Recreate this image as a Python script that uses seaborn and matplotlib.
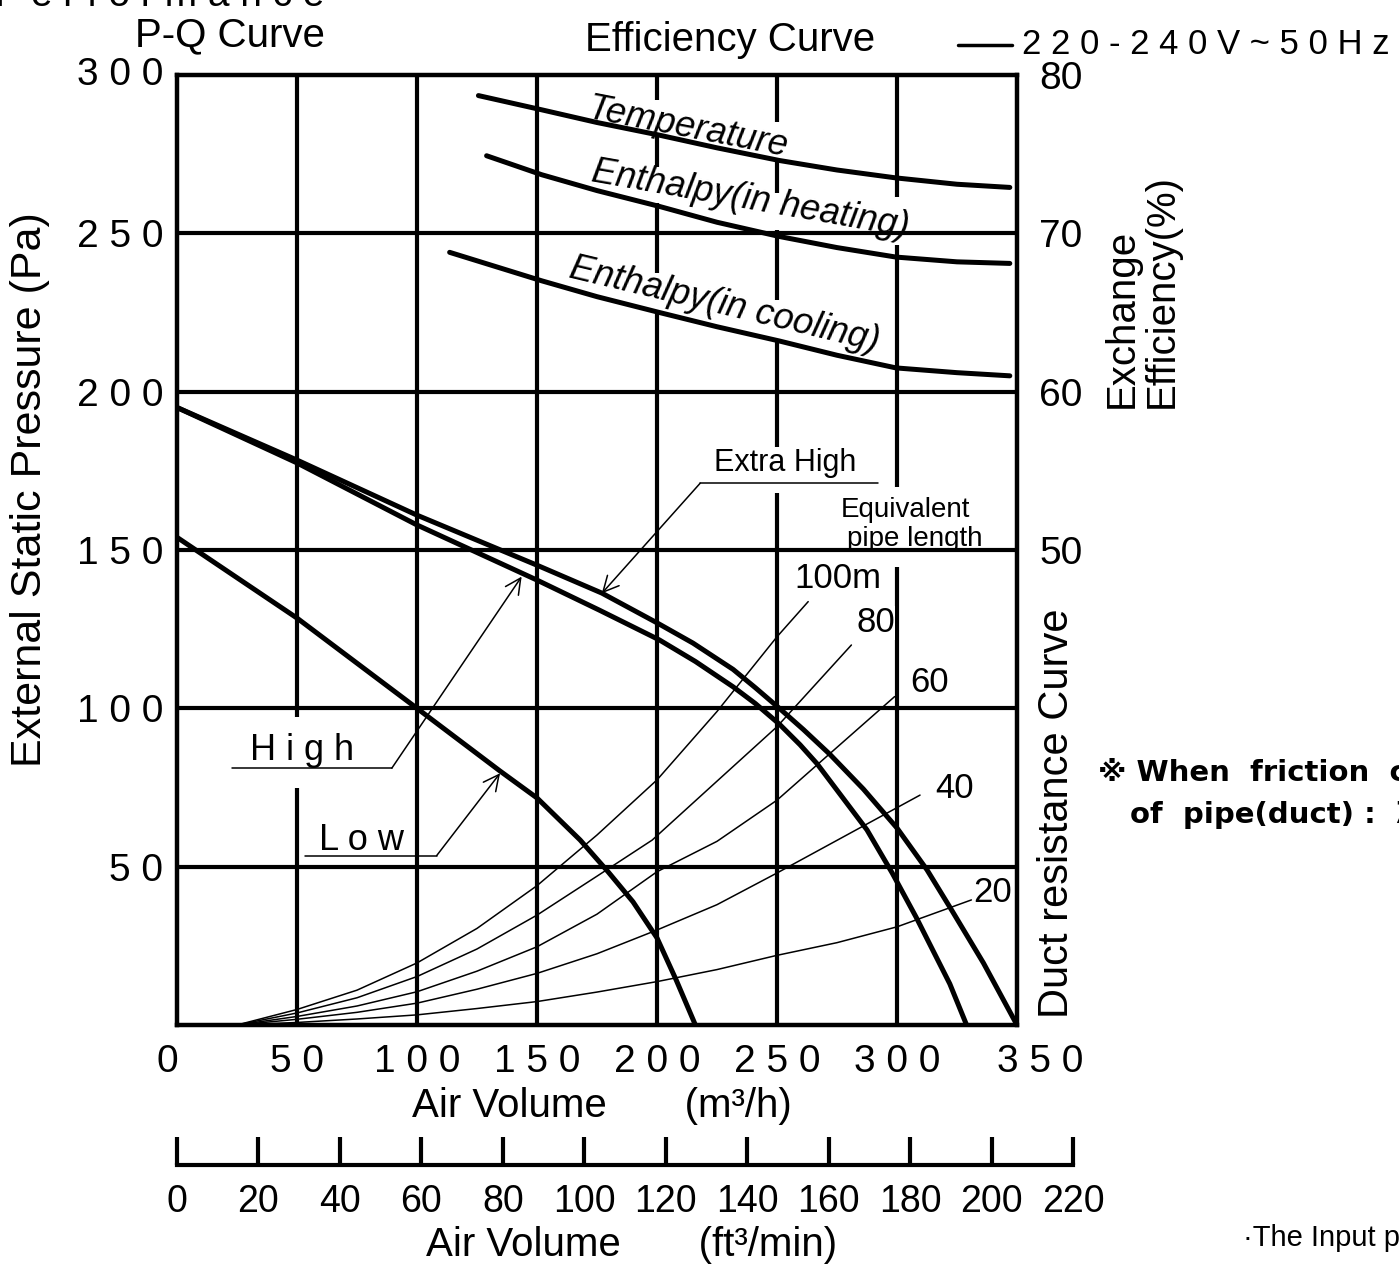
import matplotlib
matplotlib.use("Agg")
import matplotlib.pyplot as plt
import matplotlib.transforms as mtransforms
import seaborn as sns

# ---------------- data ----------------
# P-Q curves: air volume (m3/h) vs external static pressure (Pa)
extra_high_q = [0, 50, 100, 150, 177, 200, 215, 231.7, 241, 251, 261, 272, 286, 300, 312.5, 323, 336, 350]
extra_high_p = [195, 178.4, 161, 145.2, 136.4, 127, 120.6, 112.3, 106.5, 100, 93.3, 85.5, 74.5, 62.2, 49, 36, 19.6, 0]

high_q = [0, 50, 100, 150, 176, 201, 216, 231.7, 241, 251, 259.6, 266.7, 287.5, 298, 308, 322, 329]
high_p = [195, 177.5, 157.9, 140.5, 131, 121.6, 114.8, 106.8, 101.5, 95, 88.5, 82.5, 61.6, 48, 34, 13, 0]

low_q = [0, 50, 100, 134.6, 150, 168, 179.6, 190, 200, 208, 216]
low_p = [154, 128.5, 100, 80.2, 71.7, 58.4, 48.4, 38.9, 27.5, 14.2, 0]

# Duct resistance curves (equivalent pipe length)
duct_labels = ["100m", "80", "60", "40", "20"]
duct100_q = [25, 50, 75, 100, 125, 150, 175, 200, 225, 250, 263]
duct100_p = [0, 4.9, 11, 19.6, 30.5, 44, 60, 77.4, 99, 122.6, 133.7]
duct80_q = [25, 50, 75, 100, 125, 150, 175, 198, 225, 250, 281]
duct80_p = [0, 3.8, 8.6, 15.3, 24, 34.7, 47, 58.4, 77, 94.2, 120]
duct60_q = [25, 50, 75, 100, 125, 150, 175, 200, 225, 250, 299]
duct60_p = [0, 2.7, 6, 10.5, 17, 24.7, 35, 48.4, 58, 71, 103.7]
duct40_q = [25, 50, 75, 100, 125, 150, 175, 200, 225, 250, 309.6]
duct40_p = [0, 1.8, 4, 6.9, 11.3, 16.3, 22.5, 30, 38, 48, 72.6]
duct20_q = [25, 50, 75, 100, 125, 150, 175, 200, 225, 250, 275, 300, 331]
duct20_p = [0, 0.8, 1.9, 3.2, 5.2, 7.4, 10.4, 13.7, 17.5, 22, 26, 31, 39.5]

# Exchange efficiency curves (%)
temp_q = [125.6, 152, 175, 201, 225, 251, 275, 299.6, 325, 347]
temp_eff = [78.7, 77.8, 77.0, 76.2, 75.4, 74.6, 74.0, 73.5, 73.1, 72.9]
heat_q = [129, 152, 175, 201, 225, 251, 275, 299.6, 325, 347]
heat_eff = [74.9, 73.7, 72.7, 71.7, 70.7, 69.8, 69.1, 68.5, 68.2, 68.1]
cool_q = [113.6, 152, 175, 201, 225, 251, 275, 299.6, 325, 347]
cool_eff = [68.8, 67.0, 66.0, 65.0, 64.1, 63.2, 62.3, 61.5, 61.2, 61.0]

# tick labels
m3h_ticks = [0, 50, 100, 150, 200, 250, 300, 350]
m3h_labels = ["0", "5 0", "1 0 0", "1 5 0", "2 0 0", "2 5 0", "3 0 0", "3 5 0"]
pa_ticks = [50, 100, 150, 200, 250, 300]
pa_labels = ["5 0", "1 0 0", "1 5 0", "2 0 0", "2 5 0", "3 0 0"]
eff_ticks = [50, 60, 70, 80]
eff_labels = ["50", "60", "70", "80"]
cfm_ticks = [0, 20, 40, 60, 80, 100, 120, 140, 160, 180, 200, 220]
cfm_labels = [str(v) for v in cfm_ticks]

# ---------------- style ----------------
sns.set_theme(style="white")
FONT = ["Liberation Sans", "DejaVu Sans", "Noto Sans CJK JP"]
plt.rcParams["font.family"] = FONT
plt.rcParams["axes.unicode_minus"] = False
for key in ["text.color", "axes.labelcolor", "xtick.color", "ytick.color", "axes.edgecolor"]:
    plt.rcParams[key] = "black"

W, H = 1399, 1264
fig = plt.figure(figsize=(W / 100, H / 100), dpi=100)
fig.patch.set_facecolor("white")


def fx(px):
    return px / W


def fy(py):
    return 1 - py / H


ax = fig.add_axes([fx(177), fy(1025), (1017 - 177) / W, (1025 - 75) / H])
ax.set_xlim(0, 350)
ax.set_ylim(0, 300)
for s in ax.spines.values():
    s.set_linewidth(3.2)
    s.set_color("black")
    s.set_visible(True)

K = "black"
GLW = 3.0

# horizontal grid
for yv in [50, 100, 150, 200, 250]:
    ax.plot([0, 350], [yv, yv], color=K, lw=GLW, solid_capstyle="butt", zorder=1)

# vertical grid (with gaps for text)
vsegs = {
    50: [(300, 97.3), (74.8, 0)],
    100: [(300, 0)],
    150: [(300, 0)],
    200: [(300, 292), (281, 271), (259.6, 237.5), (225.8, 0)],
    250: [(300, 285), (273.8, 262.7), (251, 229), (216.3, 182.5), (168, 0)],
    300: [(300, 261.4), (246.3, 169.9), (144.6, 0)],
}
for xv, segs in vsegs.items():
    for a, b in segs:
        ax.plot([xv, xv], [a, b], color=K, lw=GLW, solid_capstyle="butt", zorder=1)

# duct resistance curves
for q, p in [(duct100_q, duct100_p), (duct80_q, duct80_p), (duct60_q, duct60_p),
             (duct40_q, duct40_p), (duct20_q, duct20_p)]:
    sns.lineplot(x=q, y=p, ax=ax, color=K, lw=1.1, sort=False, estimator=None, zorder=2)

# P-Q curves
for q, p in [(extra_high_q, extra_high_p), (high_q, high_p), (low_q, low_p)]:
    sns.lineplot(x=q, y=p, ax=ax, color=K, lw=3.6, sort=False, estimator=None, zorder=3)

ax.set_xlabel("")
ax.set_ylabel("")

# ticks
ax.set_xticks(m3h_ticks)
ax.set_xticklabels(m3h_labels, fontsize=28)
ax.set_yticks(pa_ticks)
ax.set_yticklabels(pa_labels, fontsize=28)
ax.tick_params(axis="both", length=0, colors="black")
ax.tick_params(axis="x", pad=14)
ax.tick_params(axis="y", pad=10)
xl = ax.get_xticklabels()
xl[0].set_transform(xl[0].get_transform() + mtransforms.ScaledTranslation(-10 / 100, 0, fig.dpi_scale_trans))
xl[-1].set_transform(xl[-1].get_transform() + mtransforms.ScaledTranslation(23 / 100, 0, fig.dpi_scale_trans))
yl = ax.get_yticklabels()
yl[-1].set_transform(yl[-1].get_transform() + mtransforms.ScaledTranslation(0, 4 / 100, fig.dpi_scale_trans))

# efficiency axis
ax2 = ax.twinx()
ax2.set_ylim(20, 80)
sns.lineplot(x=temp_q, y=temp_eff, ax=ax2, color=K, lw=3.6, sort=False, estimator=None)
sns.lineplot(x=heat_q, y=heat_eff, ax=ax2, color=K, lw=3.6, sort=False, estimator=None)
sns.lineplot(x=cool_q, y=cool_eff, ax=ax2, color=K, lw=3.6, sort=False, estimator=None)
ax2.set_yticks(eff_ticks)
ax2.set_yticklabels(eff_labels, fontsize=28)
ax2.tick_params(axis="y", length=0, pad=16, colors="black")
ax2.set_ylabel("")
for s in ax2.spines.values():
    s.set_visible(False)

# curve labels
ax.text(212.9, 283.2, "Temperature", fontsize=26, style="italic", rotation=-11,
        ha="center", va="center", rotation_mode="anchor", zorder=5)
ax.text(238.75, 260.5, "Enthalpy(in heating)", fontsize=26, style="italic", rotation=-10,
        ha="center", va="center", rotation_mode="anchor", zorder=5)
ax.text(228.3, 227.3, "Enthalpy(in cooling)", fontsize=26, style="italic", rotation=-13.5,
        ha="center", va="center", rotation_mode="anchor", zorder=5)

ax.text(253.3, 177.5, "Extra High", fontsize=22, ha="center", va="center")
ax.text(303.5, 162.5, "Equivalent", fontsize=20, ha="center", va="center")
ax.text(307.5, 153.5, "pipe length", fontsize=20, ha="center", va="center")
label_pos = [(275.4, 141), (291, 127), (313.75, 108.3), (324, 74.8), (340, 41.7)]
for lab, (qx, py) in zip(duct_labels, label_pos):
    ax.text(qx, py, lab, fontsize=25, ha="center", va="center",
            bbox=dict(facecolor="white", edgecolor="none", pad=0.5) if lab in ("100m", "80") else None)
ax.text(52, 86.8, "H i g h", fontsize=26, ha="center", va="center")
ax.text(77, 58.4, "L o w", fontsize=26, ha="center", va="center")

# leader lines + arrows
ax.plot([218, 292], [171.1, 171.1], color=K, lw=1.1)
ax.annotate("", xy=(177, 136.3), xytext=(218, 171.1),
            arrowprops=dict(arrowstyle="->", lw=1.1, color=K, mutation_scale=28, shrinkA=0, shrinkB=0))
ax.plot([22.8, 89.5], [81.1, 81.1], color=K, lw=1.1)
ax.annotate("", xy=(143.6, 141.6), xytext=(89.5, 81.1),
            arrowprops=dict(arrowstyle="->", lw=1.1, color=K, mutation_scale=28, shrinkA=0, shrinkB=0))
ax.plot([53.3, 108.2], [53.5, 53.5], color=K, lw=1.1)
ax.annotate("", xy=(134.6, 79.5), xytext=(108.2, 53.5),
            arrowprops=dict(arrowstyle="->", lw=1.1, color=K, mutation_scale=28, shrinkA=0, shrinkB=0))

# secondary bottom axis: ft3/min
axb = fig.add_axes([fx(177), fy(1165), (1073 - 177) / W, 0.0005])
axb.set_xlim(0, 220)
axb.set_ylim(0, 1)
axb.set_yticks([])
axb.set_xticks(cfm_ticks)
axb.set_xticklabels(cfm_labels, fontsize=27)
axb.tick_params(axis="x", direction="in", length=20, width=3, pad=14, bottom=True, colors="black")
for k in ["top", "left", "right"]:
    axb.spines[k].set_visible(False)
axb.spines["bottom"].set_linewidth(3)
axb.spines["bottom"].set_color(K)
axb.patch.set_alpha(0)

# axis titles and other texts
fig.text(fx(30), fy(490), "External Static Pressure (Pa)", fontsize=31, rotation=90,
         ha="center", va="center")
fig.text(fx(602), fy(1106), "Air Volume       (m\u00b3/h)", fontsize=29, ha="center", va="center")
fig.text(fx(632), fy(1245), "Air Volume       (ft\u00b3/min)", fontsize=29, ha="center", va="center")
fig.text(fx(230), fy(35), "P-Q Curve", fontsize=29, ha="center", va="center")
fig.text(fx(585), fy(40), "Efficiency Curve", fontsize=29, ha="left", va="center")
fig.add_artist(plt.Line2D([fx(958), fx(1012)], [fy(45), fy(45)], color=K, lw=2.5))
fig.text(fx(1022), fy(45), "2 2 0 - 2 4 0 V ~ 5 0 H z", fontsize=25, ha="left", va="center")
fig.text(fx(-5), fy(6), "P e r f o r m a n c e", fontsize=28, ha="left", va="baseline")

fig.text(fx(1122), fy(408), "Exchange", fontsize=29, rotation=90, ha="center", va="bottom")
fig.text(fx(1162), fy(408), "Efficiency(%)", fontsize=29, rotation=90, ha="center", va="bottom")
fig.text(fx(1057), fy(1018), "Duct resistance Curve", fontsize=30, rotation=90, ha="center", va="bottom")

fig.text(fx(1098), fy(773), "\u203b When  friction  coefficient", fontsize=21, ha="left", va="center",
         weight="bold", family=["DejaVu Sans", "Noto Sans CJK JP"])
fig.text(fx(1130), fy(815), "of  pipe(duct) :  \u03bb=0.02", fontsize=21, ha="left", va="center",
         weight="bold", family=["DejaVu Sans", "Noto Sans CJK JP"])
fig.text(fx(1243), fy(1238), "\u00b7The Input power", fontsize=21, ha="left", va="center")

fig.savefig("out.png", dpi=100, facecolor="white")
